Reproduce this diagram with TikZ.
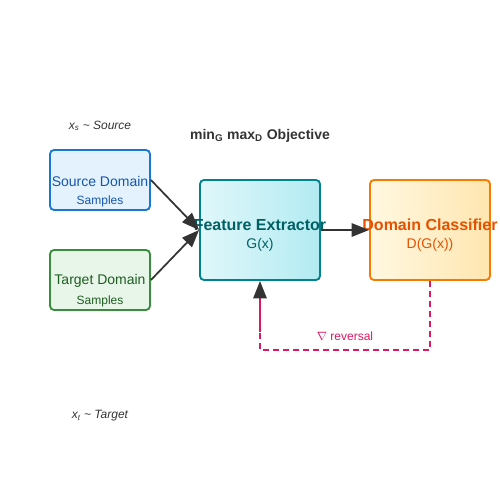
\documentclass[tikz,border=0pt]{standalone}
\usepackage{fontspec}
\setmainfont{Liberation Sans}
\usetikzlibrary{arrows.meta}
\usetikzlibrary{positioning}

\definecolor{srcfill}{HTML}{E3F2FD}
\definecolor{srcline}{HTML}{1976D2}
\definecolor{srctext}{HTML}{1556B0}
\definecolor{tgtfill}{HTML}{E8F5E9}
\definecolor{tgtline}{HTML}{388E3C}
\definecolor{tgttext}{HTML}{1E5E20}
\definecolor{featA}{HTML}{E0F7FA}
\definecolor{featB}{HTML}{B2EBF2}
\definecolor{featline}{HTML}{00838F}
\definecolor{feattext}{HTML}{006064}
\definecolor{clsA}{HTML}{FFF8E1}
\definecolor{clsB}{HTML}{FFE6B0}
\definecolor{clsline}{HTML}{F57C00}
\definecolor{clstext}{HTML}{E65100}
\definecolor{revcol}{HTML}{D81B60}
\definecolor{inkgray}{HTML}{333333}

\tikzset{
  box/.style={rounded corners=3pt, line width=1.4pt, inner sep=0pt},
  smallbox/.style={box, minimum width=75pt, minimum height=45pt},
  bigbox/.style={box, minimum width=90pt, minimum height=75pt},
  flow/.style={-{Triangle[length=13pt,width=10pt]}, line width=1.3pt, draw=inkgray},
  note/.style={font=\fontsize{9}{10}\selectfont\itshape, text=inkgray}
}

\begin{document}
\begin{tikzpicture}[x=0.75pt, y=-0.75pt]
            \useasboundingbox (0,0) rectangle (500,500);

            % Input boxes
            \node[smallbox, fill=srcfill, draw=srcline] (src) at (100,180) {};
            \node[font=\fontsize{10.5}{12}\selectfont, text=srctext] at (100,181) {Source Domain};
            \node[font=\fontsize{9}{10}\selectfont, text=srctext] at (100,201) {Samples};

            \node[smallbox, fill=tgtfill, draw=tgtline] (tgt) at (100,280) {};
            \node[font=\fontsize{10.5}{12}\selectfont, text=tgttext] at (100,281) {Target Domain};
            \node[font=\fontsize{9}{10}\selectfont, text=tgttext] at (100,301) {Samples};

            % Feature extractor
            \node[bigbox, left color=featA, right color=featB, draw=featline] (feat) at (260,230) {};
            \node[font=\fontsize{12}{14}\selectfont\bfseries, text=feattext] at (260,225) {Feature Extractor};
            \node[font=\fontsize{10.5}{12}\selectfont, text=feattext] at (260,245) {G(x)};

            % Domain classifier
            \node[bigbox, left color=clsA, right color=clsB, draw=clsline] (cls) at (430,230) {};
            \node[font=\fontsize{12}{14}\selectfont\bfseries, text=clstext] at (430,225) {Domain Classifier};
            \node[font=\fontsize{10.5}{12}\selectfont, text=clstext] at (430,245) {D(G(x))};

            % Forward arrows
            \draw[flow] (src.east) -- (feat.west);
            \draw[flow] (tgt.east) -- (feat.west);
            \draw[flow] (feat.east) -- (cls.west);

            % Gradient reversal
            \coordinate (revend) at (260,350);
            \coordinate (revup) at (260,332);
            \draw[revcol, line width=1.3pt, dash pattern=on 4.5pt off 3pt] (cls.south) |- (revend) -- (revup);
            \draw[revcol, line width=1.3pt, -{Triangle[length=13pt,width=10pt,color=inkgray]}] (revup) -- (feat.south);
            \node[font=\fontsize{9}{10}\selectfont, text=revcol] (revlbl) at (345,336) {$\nabla$ reversal};

            % Labels
            \node[note] (srclbl) at (100,126) {x\textsubscript{s} \textasciitilde{} Source};
            \node[note] (tgtlbl) at (100,416) {x\textsubscript{t} \textasciitilde{} Target};
            \node[font=\fontsize{10.5}{12}\selectfont\bfseries, text=inkgray] (obj) at (260,136) {min\textsubscript{G} max\textsubscript{D} Objective};

        \end{tikzpicture}
\end{document}
